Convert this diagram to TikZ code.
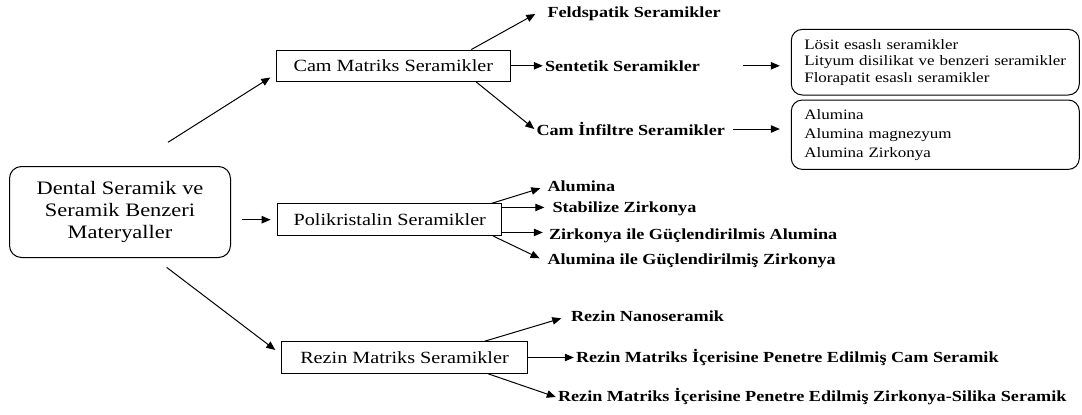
\documentclass[tikz,border=0pt]{standalone}
\usepackage{fontspec}
\setmainfont{Liberation Serif}[FakeStretch=1.18]
\usetikzlibrary{arrows.meta,positioning,calc}

\begin{document}
\begin{tikzpicture}[x=1pt, y=-1pt, every node/.style={inner sep=2pt},
    box/.style={draw, line width=1pt, minimum height=31.5pt, inner xsep=0pt, font=\fontsize{17.1}{20}\selectfont},
    leaf/.style={font=\fontsize{15.4}{18}\selectfont\bfseries},
    lst/.style={draw, rounded corners=11pt, line width=1pt, text width=262pt, align=left, inner xsep=13pt, inner ysep=0pt, font=\fontsize{14.4}{16.4}\selectfont},
    arr/.style={-{Triangle[length=9pt,width=7.5pt]}, line width=1pt}]
      \useasboundingbox (0,0) rectangle (1082,415);

      \node[draw, rounded corners=12pt, line width=1pt, minimum width=221pt, minimum height=91pt, align=center, font=\fontsize{19}{22}\selectfont] (dental) at (120,212) {Dental Seramik ve\\Seramik Benzeri\\Materyaller};

      \node[box, minimum width=234pt, right=44.8pt of dental, yshift=146.2pt] (cam) {Cam Matriks Seramikler};
      \node[box, minimum width=224pt, right=46.3pt of dental, yshift=-7.7pt] (poli) {Polikristalin Seramikler};
      \node[box, minimum width=246pt, right=50pt of dental, yshift=-145.5pt] (rezin) {Rezin Matriks Seramikler};

      \node[leaf, right=34.5pt of cam, yshift=51.8pt] (c1) {Feldspatik Seramikler};
      \node[leaf, right=32pt of cam] (c2) {Sentetik Seramikler};
      \node[leaf, right=23.5pt of cam, yshift=-63.2pt] (c3) {Cam İnfiltre Seramikler};
      \node[lst, minimum height=65.6pt, right=280pt of cam, yshift=3.6pt] (lst1) {Lösit esaslı seramikler\\Lityum disilikat ve benzeri seramikler\\Florapatit esaslı seramikler};
      \node[lst, minimum height=69.4pt, font=\fontsize{14.4}{19}\selectfont, right=280pt of cam, yshift=-68.9pt] (lst2) {Alumina\\Alumina magnezyum\\Alumina Zirkonya};

      \node[leaf, right=43pt of poli, yshift=33.7pt] (p1) {Alumina};
      \node[leaf, right=48pt of poli, yshift=10.7pt] (p2) {Stabilize Zirkonya};
      \node[leaf, right=44.5pt of poli, yshift=-16.3pt] (p3) {Zirkonya ile Güçlendirilmis Alumina};
      \node[leaf, right=43pt of poli, yshift=-41.3pt] (p4) {Alumina ile Güçlendirilmiş Zirkonya};

      \node[leaf, right=40.8pt of rezin, yshift=40.8pt] (r1) {Rezin Nanoseramik};
      \node[leaf, right=45.8pt of rezin] (r2) {Rezin Matriks İçerisine Penetre Edilmiş Cam Seramik};
      \node[leaf, right=27.8pt of rezin, yshift=-39.5pt] (r3) {Rezin Matriks İçerisine Penetre Edilmiş Zirkonya-Silika Seramik};

      \draw[arr] ($(dental.north)+(48,-23.7)$) -- ($(cam.west)+(-5.5,11.7)$);
      \draw[arr] ($(dental.east |- poli.west)+(11,0)$) -- ($(poli.west)+(-6.7,0)$);
      \draw[arr] ($(dental.south)+(46.7,9.4)$) -- ($(rezin.west)+(-5.7,-7.5)$);

      \draw[arr] ($(cam.north east)+(-39.5,0)$) -- ($(c1.west)+(-10,0)$);
      \draw[arr] (cam.east) -- (c2.west);
      \draw[arr] ($(cam.south east)+(-34.5,0)$) -- (c3.west);
      \draw[arr] ($(c2.west -| lst1.west)+(-48,0)$) -- ($(c2.west -| lst1.west)+(-11,0)$);
      \draw[arr] ($(c3.west -| lst2.west)+(-57.6,0)$) -- ($(c3.west -| lst2.west)+(-11,0)$);

      \draw[arr] ($(poli.north east)+(-11,0)$) -- ($(p1.west)+(-5,2.3)$);
      \draw[arr] ($(poli.north east)+(0,4)$) -- ($(poli.north east -| p2.west)+(-6,4)$);
      \draw[arr] ($(poli.south east)+(0,-3.5)$) -- ($(poli.south east -| p3.west)+(-4,-3.5)$);
      \draw[arr] ($(poli.south east)+(-9.3,0)$) -- ($(p4.west)+(-5.7,-2.7)$);

      \draw[arr] ($(rezin.north east)+(-43.4,0)$) -- ($(r1.west)+(-7.5,1.6)$);
      \draw[arr] (rezin.east) -- (r2.west);
      \draw[arr] ($(rezin.south east)+(-40,0)$) -- (r3.west);
    \end{tikzpicture}
\end{document}
